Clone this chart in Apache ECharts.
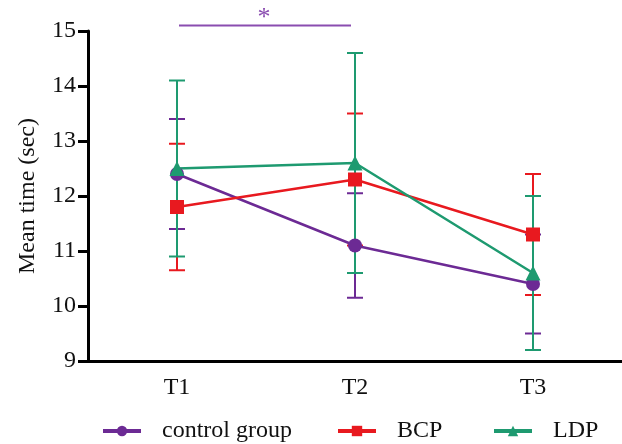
<!DOCTYPE html>
<html><head><meta charset="utf-8">
<script src="https://cdn.jsdelivr.net/npm/echarts@6/dist/echarts.min.js"></script>
<style>html,body{margin:0;padding:0;background:#fff}#c{width:622px;height:444px}</style>
</head><body><div id="c"></div>
<script>
const categories = ['T1','T2','T3'];
const seriesNames = ['control group','BCP','LDP'];
const controlMean = [12.4, 11.1, 10.4];
const controlSD = [1.0, 0.95, 0.9];
const bcpMean = [11.8, 12.3, 11.3];
const bcpSD = [1.15, 1.2, 1.1];
const ldpMean = [12.5, 12.6, 10.6];
const ldpSD = [1.6, 2.0, 1.4];
const yTicks = [9, 10, 11, 12, 13, 14, 15];
const sigFrom = 0, sigTo = 1, sigLevel = 15.1, sigLabel = '*';

const colors = ['#6C2A94', '#E8191F', '#1E9A70'];
const symbols = ['circle', 'rect', 'triangle'];
const means = [controlMean, bcpMean, ldpMean];
const sds = [controlSD, bcpSD, ldpSD];
const font = 'Liberation Serif';
const legendLefts = [96, 331, 487];

const chart = echarts.init(document.getElementById('c'), null, {renderer: 'canvas'});

function errSeries(i) {
  return {
    type: 'custom',
    name: seriesNames[i] + ' err',
    z: 2,
    clip: false,
    silent: true,
    data: categories.map((c, k) => [k, means[i][k] - sds[i][k], means[i][k] + sds[i][k]]),
    renderItem: function (params, api) {
      const lo = api.coord([api.value(0), api.value(1)]);
      const hi = api.coord([api.value(0), api.value(2)]);
      const w = 8;
      const st = {stroke: colors[i], lineWidth: 2};
      return {type: 'group', children: [
        {type: 'line', shape: {x1: hi[0], y1: hi[1], x2: lo[0], y2: lo[1]}, style: st},
        {type: 'line', shape: {x1: hi[0]-w, y1: hi[1], x2: hi[0]+w, y2: hi[1]}, style: st},
        {type: 'line', shape: {x1: lo[0]-w, y1: lo[1], x2: lo[0]+w, y2: lo[1]}, style: st}
      ]};
    }
  };
}

const series = [];
[0,1,2].forEach(i => series.push(errSeries(i)));
series.push({
  type: 'custom',
  name: 'significance',
  clip: false,
  silent: true,
  z: 3,
  data: [[sigFrom, sigTo, sigLevel]],
  renderItem: function (params, api) {
    const a = api.coord([api.value(0), api.value(2)]);
    const b = api.coord([api.value(1), api.value(2)]);
    return {type: 'group', children: [
      {type: 'line', shape: {x1: a[0] + 2, y1: a[1], x2: b[0] - 4, y2: b[1]}, style: {stroke: '#8A4DB0', lineWidth: 1.8}},
      {type: 'text', style: {x: (a[0] + b[0]) / 2 - 2, y: a[1] - 7, text: sigLabel, fill: '#8A4DB0', font: '26px "' + font + '"', textAlign: 'center', textVerticalAlign: 'middle'}}
    ]};
  }
});
[0,1,2].forEach(i => {
  series.push({
    type: 'line',
    name: seriesNames[i],
    data: means[i],
    z: 5,
    symbol: symbols[i],
    symbolSize: i === 2 ? 15 : 14,
    showAllSymbol: true,
    lineStyle: {color: colors[i], width: 2.5},
    itemStyle: {color: colors[i]},
    emphasis: {disabled: true}
  });
});

chart.setOption({
  animation: false,
  backgroundColor: '#fff',
  grid: {left: 88, right: 0, top: 31, bottom: 83, containLabel: false, outerBoundsMode: 'none'},
  legend: seriesNames.map((n, i) => ({
    bottom: -4,
    left: legendLefts[i],
    itemWidth: 38,
    itemHeight: 13,
    data: [n],
    selectedMode: false,
    lineStyle: {width: 4},
    textStyle: {fontFamily: font, fontSize: 24, color: '#111', padding: [0, 0, 0, 16]}
  })),
  xAxis: {
    type: 'category',
    data: categories,
    boundaryGap: true,
    axisLine: {lineStyle: {color: '#000', width: 3}},
    axisTick: {alignWithLabel: true, length: 9, lineStyle: {color: '#000', width: 3}},
    axisLabel: {fontFamily: font, fontSize: 24, color: '#111', margin: 15},
    splitLine: {show: false}
  },
  yAxis: {
    type: 'value',
    min: yTicks[0],
    max: yTicks[yTicks.length - 1],
    interval: 1,
    name: 'Mean time (sec)',
    nameLocation: 'middle',
    nameGap: 48,
    nameTextStyle: {fontFamily: font, fontSize: 24, color: '#111'},
    axisLine: {show: true, lineStyle: {color: '#000', width: 3}},
    axisTick: {show: true, length: 10, lineStyle: {color: '#000', width: 3}},
    axisLabel: {fontFamily: font, fontSize: 24, color: '#111', margin: 12},
    splitLine: {show: false}
  },
  series: series
});
</script>
</body></html>
